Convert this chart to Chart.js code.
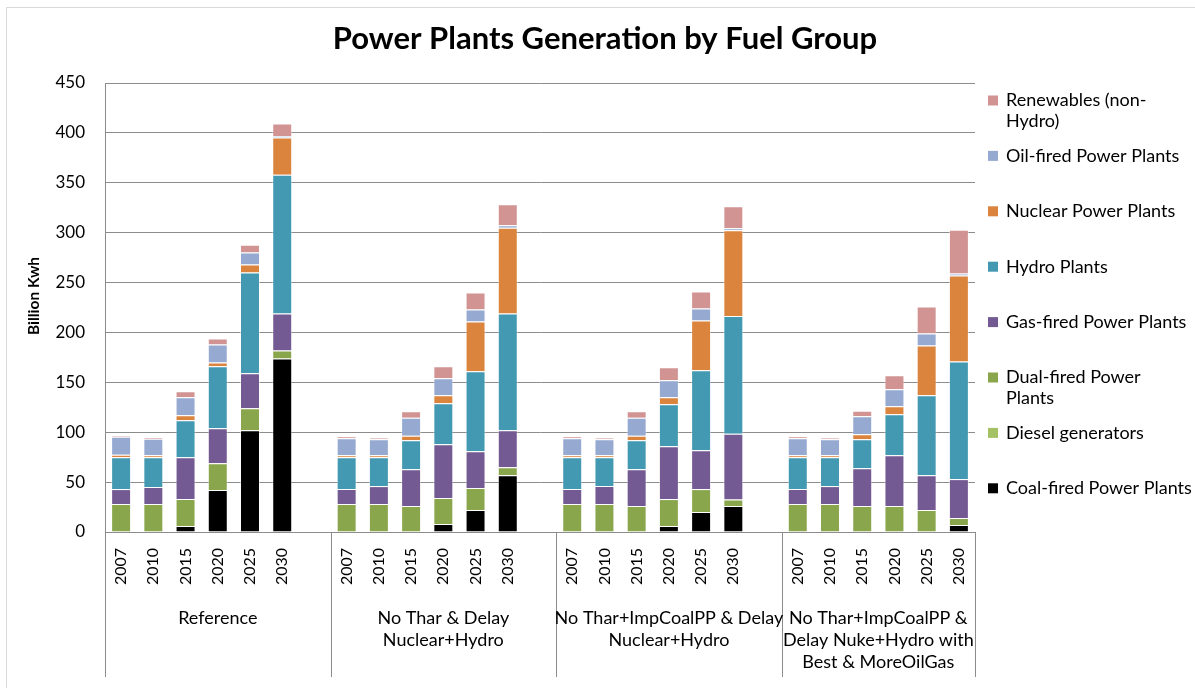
<!DOCTYPE html>
<html>
<head>
<meta charset="utf-8">
<script src="https://cdn.jsdelivr.net/npm/chart.js@4/dist/chart.umd.min.js"></script>
<style>
  html, body { margin: 0; padding: 0; background: #fff; }
  #wrap { width: 1195px; height: 688px; }
</style>
</head>
<body>
<div id="wrap"><canvas id="chartFuel" width="1195" height="688"></canvas></div>
<script>
// years shown inside each scenario group
const years = ["2007", "2010", "2015", "2020", "2025", "2030"];
// scenario group names (already split into lines as in the chart)
const scenarios = [
    ["Reference"],
    ["No Thar & Delay", "Nuclear+Hydro"],
    ["No Thar+ImpCoalPP & Delay", "Nuclear+Hydro"],
    ["No Thar+ImpCoalPP &", "Delay Nuke+Hydro with", "Best & MoreOilGas"],
];
const yTicks = [0, 50, 100, 150, 200, 250, 300, 350, 400, 450];

// values, Billion Kwh, 6 years per scenario, scenarios one after the other
const coal = [0, 0, 6, 42, 102, 174, 0, 0, 0, 8, 22, 57, 0, 0, 0, 6, 20, 26, 0, 0, 0, 0, 0, 7];
const diesel = [0, 0, 0, 0, 0, 0, 0, 0, 0, 0, 0, 0, 0, 0, 0, 0, 0, 0, 0, 0, 0, 0, 0, 0];
const dual = [28, 28, 27, 27, 22, 8, 28, 28, 26, 26, 22, 8, 28, 28, 26, 27, 23, 6.5, 28, 28, 26, 26, 22, 7];
const gas = [15, 17, 42, 35, 35, 37, 15, 18, 37, 54, 37, 37, 15, 18, 37, 53, 39, 66, 15, 18, 38, 51, 35, 39];
const hydro = [32, 30, 37, 62, 101, 139, 32, 29, 29, 41, 80, 117, 32, 29, 29, 42, 80, 118, 32, 29, 29, 41, 80, 118];
const nuclear = [2.5, 2, 5, 4, 8, 37.5, 2, 2, 4.5, 8, 50, 86, 2, 2, 4.5, 7, 50, 86, 2, 2, 5, 8, 50, 86];
const oil = [18, 16.5, 18, 18, 12, 1.5, 17, 16, 18, 17, 12, 2.5, 17, 16, 18, 17, 12, 2, 17, 16, 18, 17, 12, 2];
const renew = [1, 1.5, 6, 6, 8, 12.5, 2, 1.5, 6.5, 12, 17, 21, 2, 1.5, 6.5, 13, 17, 22, 2, 1.5, 5.5, 14, 27, 44];

// stack order, bottom to top
const seriesNames = [
    "Coal-fired Power Plants", "Diesel generators", "Dual-fired Power Plants", "Gas-fired Power Plants",
    "Hydro Plants", "Nuclear Power Plants", "Oil-fired Power Plants", "Renewables (non-Hydro)",
];
const seriesValues = [coal, diesel, dual, gas, hydro, nuclear, oil, renew];
const seriesColors = ["#000000", "#a4c264", "#8aa64d", "#735a92", "#4399b1", "#db843d", "#95a9d1", "#d29393"];
const legendLines = {
    "Renewables (non-Hydro)": ["Renewables (non-", "Hydro)"],
    "Dual-fired Power Plants": ["Dual-fired Power", "Plants"],
};

const FONT = 'Lato, "Open Sans", sans-serif';
const GRAY = "#8c8c8c";

// one empty slot between scenario groups
const labels = [];
const slotIndex = [];
scenarios.forEach((s, g) => {
    years.forEach((y) => { slotIndex.push(labels.length); labels.push(y); });
    if (g < scenarios.length - 1) labels.push("");
});

function spread(values) {
    const out = labels.map(() => null);
    values.forEach((v, i) => { out[slotIndex[i]] = v; });
    return out;
}

const datasets = seriesNames.map((name, i) => ({
    label: name,
    data: spread(seriesValues[i]),
    backgroundColor: seriesColors[i],
    borderColor: "rgba(255,255,255,0.45)",
    borderWidth: 1,
    barPercentage: 0.62,
    categoryPercentage: 1,
}));

const decoraciones = {
    id: "decoraciones",
    afterDraw(chart) {
        const { ctx, chartArea, scales } = chart;
        const x = scales.x;
        ctx.save();

        // outer frame
        ctx.strokeStyle = "#d9d9d9";
        ctx.lineWidth = 1;
        ctx.strokeRect(6.5, 7.5, 1200, 700);

        // title
        ctx.fillStyle = "#000";
        ctx.font = `bold 31px ${FONT}`;
        ctx.textAlign = "center";
        ctx.textBaseline = "middle";
        ctx.fillText("Power Plants Generation by Fuel Group", 605, 39);

        // y axis title
        ctx.save();
        ctx.translate(34, 296);
        ctx.rotate(-Math.PI / 2);
        ctx.font = `bold 15.5px ${FONT}`;
        ctx.fillText("Billion Kwh", 0, 0);
        ctx.restore();

        // group separators and scenario labels
        const slotW = x.width / labels.length;
        const bounds = [chartArea.left];
        scenarios.forEach((s, g) => {
            const last = slotIndex[g * years.length + years.length - 1];
            bounds.push(g < scenarios.length - 1 ? x.left + (last + 2) * slotW : chartArea.right);
        });
        ctx.strokeStyle = GRAY;
        bounds.forEach((bx) => {
            const px = Math.round(bx) + 0.5;
            ctx.beginPath();
            ctx.moveTo(px, chartArea.bottom);
            ctx.lineTo(px, 677);
            ctx.stroke();
        });
        ctx.font = `18px ${FONT}`;
        ctx.fillStyle = "#000";
        scenarios.forEach((lines, g) => {
            const cx = (bounds[g] + bounds[g + 1]) / 2;
            lines.forEach((t, k) => ctx.fillText(t, cx, 618 + k * 22));
        });

        // legend, top entry is the top of the stack
        ctx.textAlign = "left";
        ctx.font = `18px ${FONT}`;
        const orden = seriesNames.slice().reverse();
        orden.forEach((name, i) => {
            const y = 100.5 + i * 55.4;
            const color = seriesColors[seriesNames.indexOf(name)];
            ctx.fillStyle = color;
            ctx.fillRect(988, y - 5, 10, 10);
            ctx.fillStyle = "#000";
            const partes = legendLines[name] || [name];
            partes.forEach((t, k) => ctx.fillText(t, 1006, y + k * 21));
        });
        ctx.restore();
    },
};

new Chart(document.getElementById("chartFuel").getContext("2d"), {
    type: "bar",
    data: { labels, datasets },
    options: {
        responsive: false,
        animation: false,
        layout: { padding: { top: 83, right: 220, bottom: 0, left: 0 } },
        plugins: { legend: { display: false }, tooltip: { enabled: false } },
        scales: {
            x: {
                stacked: true,
                grid: { display: false, drawTicks: false },
                border: { color: GRAY, width: 1 },
                ticks: {
                    autoSkip: false, maxRotation: 90, minRotation: 90, padding: 16,
                    color: "#000", font: { family: FONT, size: 16 },
                },
                afterFit: (scale) => { scale.height = 156; },
            },
            y: {
                stacked: true,
                min: 0,
                max: 450,
                afterBuildTicks: (scale) => { scale.ticks = yTicks.map((v) => ({ value: v })); },
                grid: { color: GRAY, drawTicks: false },
                border: { color: GRAY, width: 1 },
                ticks: { padding: 20, color: "#000", font: { family: FONT, size: 17 } },
                afterFit: (scale) => { scale.width = 105; },
            },
        },
    },
    plugins: [decoraciones],
});
</script>
</body>
</html>
